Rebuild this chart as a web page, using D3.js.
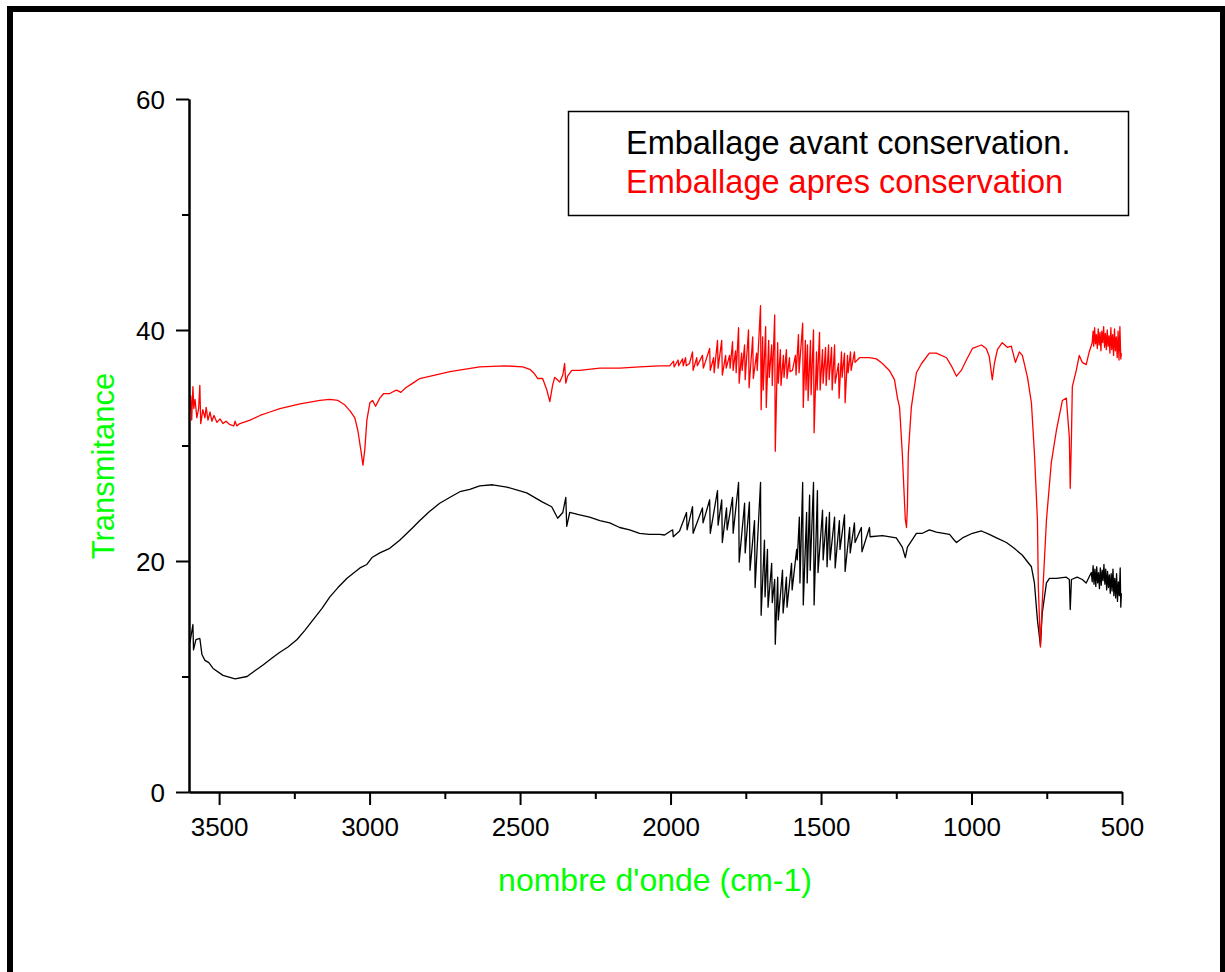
<!DOCTYPE html>
<html>
<head>
<meta charset="utf-8">
<script src="https://cdn.jsdelivr.net/npm/d3@7/dist/d3.min.js"></script>
<style>
  html, body { margin: 0; padding: 0; background: #fff; }
  svg { display: block; }
  text { font-family: "Liberation Sans", Arial, sans-serif; }
</style>
</head>
<body>
<svg id="chart" width="1225" height="972"></svg>
<script>
// ---------- data ----------
const xMajorTicks = [3500, 3000, 2500, 2000, 1500, 1000, 500];
const xMinorTicks = [3250, 2750, 2250, 1750, 1250, 750];
const yMajorTicks = [0, 20, 40, 60];
const yMinorTicks = [10, 30, 50];
const xTitle = "nombre d'onde (cm-1)";
const yTitle = "Transmitance";
const seriesNames = ["Emballage avant conservation.", "Emballage apres conservation"];
const seriesColors = ["#000000", "#ff0000"];

// Emballage apres conservation (red)  [wavenumber, transmittance]
const apresConservation = [
  [3597,33.1],[3594,34.3],[3591,32.2],[3587,35.1],[3584,33.2],[3580,34.0],[3574,32.4],[3568,33.2],[3564,35.2],[3561,31.9],
  [3554,33.1],[3547,32.4],[3543,33.3],[3537,32.2],[3530,32.9],[3524,32.1],[3517,32.6],[3507,32.0],[3497,32.3],[3487,31.9],
  [3477,32.1],[3464,31.8],[3451,31.7],[3447,32.1],[3441,31.7],[3431,31.9],[3397,32.2],[3364,32.6],[3331,32.9],[3298,33.2],
  [3231,33.6],[3165,33.9],[3132,34.0],[3105,33.9],[3082,33.5],[3065,33.0],[3049,32.4],[3039,31.3],[3029,29.6],[3022,28.3],
  [3016,29.6],[3009,32.2],[2999,33.7],[2990,33.9],[2980,33.4],[2966,34.1],[2953,34.5],[2933,34.5],[2919,34.7],[2910,34.8],
  [2896,34.6],[2880,35.0],[2856,35.4],[2833,35.8],[2783,36.1],[2733,36.4],[2634,36.8],[2551,36.9],[2491,36.8],[2468,36.6],
  [2455,36.3],[2441,35.8],[2425,35.8],[2411,34.8],[2401,33.8],[2392,35.2],[2385,35.9],[2368,35.5],[2358,36.1],[2352,37.1],
  [2348,35.4],[2342,36.0],[2328,36.5],[2302,36.5],[2235,36.7],[2169,36.7],[2103,36.8],[2036,36.9],[2003,36.9],[1990,37.3],
  [1988,36.8],[1975,37.4],[1973,36.9],[1960,37.5],[1958,36.9],[1950,37.6],[1948,36.9],[1937,37.1],
  [1927,38.1],[1925,36.5],[1913,37.6],[1911,36.9],[1894,37.8],[1891,36.7],[1870,38.4],[1868,36.5],[1857,37.6],[1855,36.3],
  [1844,39.1],[1842,36.7],[1830,39.1],[1828,36.1],[1817,37.8],[1815,36.7],[1804,37.8],[1802,36.7],[1794,39.0],[1792,36.5],
  [1784,38.2],[1782,36.3],[1774,40.2],[1772,35.4],[1764,38.0],[1762,36.5],[1754,38.7],[1752,35.7],[1741,40.0],[1739,35.0],
  [1727,39.4],[1725,35.8],[1714,38.0],[1712,36.5],[1701,42.1],[1699,33.1],[1694,39.4],[1692,34.8],[1684,40.3],[1682,33.3],
  [1674,39.1],[1672,35.9],[1664,38.7],[1662,35.2],[1654,41.3],[1652,29.5],[1644,38.9],[1642,35.4],[1635,38.3],[1633,35.2],
  [1625,37.8],[1623,35.9],[1615,38.3],[1613,35.8],[1605,37.6],[1603,36.4],[1595,36.5],[1585,37.8],[1583,36.1],[1575,39.6],
  [1573,36.3],[1561,40.6],[1559,33.3],[1552,39.1],[1550,34.8],[1545,38.7],[1543,33.9],[1535,39.1],[1533,34.4],[1525,40.0],
  [1523,31.1],[1515,38.1],[1513,34.8],[1505,39.8],[1503,34.8],[1495,38.3],[1493,35.4],[1485,38.5],[1483,35.2],[1475,38.7],
  [1473,35.7],[1465,38.5],[1463,34.8],[1455,38.7],[1453,35.4],[1442,37.1],[1440,34.1],[1432,38.1],[1430,35.9],[1422,38.0],
  [1420,33.7],[1412,37.8],[1410,36.3],[1402,38.1],[1400,36.5],[1389,38.1],[1387,37.2],
  [1372,37.6],[1356,37.6],[1339,37.6],[1316,37.5],[1296,37.1],[1273,36.5],[1256,35.7],[1246,34.1],[1239,33.3],[1230,29.3],
  [1220,23.6],[1216,22.9],[1213,24.7],[1210,29.3],[1200,33.3],[1183,36.3],[1166,37.1],[1140,38.0],[1117,38.0],[1083,37.6],
  [1067,36.9],[1050,36.0],[1034,36.5],[1017,37.4],[997,38.4],[967,38.7],[951,38.4],[941,37.7],[931,35.7],[924,37.1],
  [914,38.3],[898,38.9],[881,38.5],[868,38.6],[854,37.2],[841,38.1],[831,37.8],[814,35.9],[801,33.7],[791,29.35],
  [781,23.55],[778,17.75],[771,12.55],[765,16.4],[751,23.55],[735,28.5],[718,31.3],[698,33.9],[685,34.1],[675,30.7],
  [672,26.3],[668,30.7],[665,35.1],[652,36.5],[642,37.8],[632,37.2],[619,37.0],[609,38.1],[599,38.9],
  [596,39.9],[594,38.6],[591,40.2],[588,38.8],[585,39.6],[582,38.4],[579,40.1],[576,38.7],[573,39.8],[570,38.2],
  [567,39.9],[564,38.9],[561,40.3],[558,38.5],[555,39.7],[552,38.3],[549,40.0],[546,38.6],[543,39.5],[540,38.0],
  [537,40.2],[534,38.3],[531,39.6],[528,37.8],[525,40.1],[522,38.2],[519,39.4],[516,37.6],[513,39.9],[510,37.4],
  [507,40.3],[504,37.5],[502,38.0]
];

// Emballage avant conservation (black)  [wavenumber, transmittance]
const avantConservation = [
  [3597,12.9],[3587,14.5],[3585,12.3],[3577,13.2],[3564,13.3],[3557,11.9],[3547,11.4],[3534,11.2],[3520,10.7],[3487,10.1],
  [3447,9.8],[3407,10.0],[3381,10.5],[3354,11.0],[3324,11.6],[3298,12.1],[3271,12.55],[3241,13.2],[3215,14.0],[3188,14.9],
  [3158,15.9],[3132,16.9],[3105,17.7],[3075,18.5],[3032,19.4],[3009,19.7],
  [2992,20.3],[2966,20.7],[2933,21.1],[2900,21.8],[2856,22.9],[2833,23.5],[2800,24.3],[2767,25.0],[2734,25.5],[2700,26.0],
  [2667,26.2],[2634,26.5],[2591,26.6],
  [2544,26.4],[2478,25.9],[2425,25.1],[2395,24.7],[2375,23.7],[2358,24.2],[2348,25.5],[2345,23.0],[2335,24.2],[2302,24.0],
  [2269,23.8],[2235,23.5],[2202,23.3],[2169,22.9],[2136,22.7],[2103,22.4],[2070,22.3],[2036,22.3],[2020,22.25],
  [1993,22.7],[1991,22.1],[1970,22.6],
  [1947,24.2],[1945,22.7],[1927,24.7],[1925,22.4],[1894,24.6],[1892,23.3],[1870,25.3],[1868,22.4],[1844,26.1],[1842,23.1],
  [1830,25.3],[1828,21.6],[1814,24.6],[1812,22.7],[1794,25.5],[1792,22.4],[1774,26.8],[1772,19.9],[1754,25.0],[1752,20.7],
  [1738,25.1],[1736,19.2],[1721,23.5],[1719,17.7],[1701,26.8],[1699,15.3],[1688,21.8],[1686,16.9],[1678,21.0],[1676,16.0],
  [1664,19.8],[1662,16.4],[1654,18.4],[1652,12.8],[1644,18.6],[1642,14.9],[1628,19.2],[1626,15.5],[1615,18.6],[1613,16.0],
  [1598,19.8],[1596,17.5],[1581,21.0],[1579,20.1],[1572,23.8],[1570,18.1],[1561,26.8],[1559,16.2],[1548,24.2],[1546,18.1],
  [1538,25.7],[1536,19.2],[1525,26.8],[1523,16.2],[1512,26.1],[1510,19.0],[1495,24.4],[1493,20.1],[1482,23.8],[1480,19.5],
  [1472,24.2],[1470,20.1],[1455,23.8],[1453,19.4],[1439,23.5],[1437,21.0],[1422,24.0],[1420,19.1],[1405,22.9],[1403,20.7],
  [1389,23.3],[1387,21.6],[1366,22.9],[1364,20.8],[1339,22.9],[1337,22.1],
  [1296,22.2],[1250,22.0],[1230,21.2],[1220,20.3],[1213,21.2],[1183,22.4],[1163,22.4],[1140,22.7],[1117,22.5],[1073,22.3],
  [1057,21.8],[1050,21.6],[1030,22.0],[997,22.4],[967,22.6],[941,22.3],[917,22.0],[884,21.6],[858,21.1],[831,20.5],
  [801,19.5],[791,18.1],[781,14.9],[771,12.7],[765,15.5],[751,18.1],[741,18.5],[718,18.5],[685,18.6],[675,18.4],
  [672,15.8],[668,18.4],[649,18.6],[632,18.4],[619,18.1],[602,19.0],
  [599,18.2],[596,19.6],[593,18.0],[590,19.3],[587,17.8],[584,19.5],[581,18.1],[578,19.0],[575,17.6],[572,19.4],
  [569,17.9],[566,19.2],[563,18.3],[560,19.7],[557,18.0],[554,19.3],[551,17.5],[548,19.1],[545,17.7],[542,18.8],
  [539,17.2],[536,18.9],[533,17.4],[530,19.3],[527,17.0],[524,18.5],[521,16.8],[518,18.9],[515,16.5],[512,18.2],
  [509,17.0],[506,19.4],[504,16.0],[502,17.2]
];

// ---------- drawing ----------
const svg = d3.select("#chart");

// outer frame
svg.append("rect")
  .attr("x", 10).attr("y", 9).attr("width", 1213).attr("height", 1000)
  .attr("fill", "none").attr("stroke", "#000").attr("stroke-width", 6);

const x = d3.scaleLinear().domain([3600, 500]).range([189, 1122]);
const y = d3.scaleLinear().domain([0, 60]).range([792, 99]);

const line = d3.line().x(d => x(d[0])).y(d => y(d[1]));

// curves
svg.append("path").datum(avantConservation)
  .attr("d", line).attr("fill", "none")
  .attr("stroke", seriesColors[0]).attr("stroke-width", 1.3).attr("stroke-linejoin", "round");
svg.append("path").datum(apresConservation)
  .attr("d", line).attr("fill", "none")
  .attr("stroke", seriesColors[1]).attr("stroke-width", 1.3).attr("stroke-linejoin", "round");

// axes
const xAxis = svg.append("g").attr("transform", `translate(0,${y(0)})`)
  .call(d3.axisBottom(x).tickValues(xMajorTicks).tickSize(13).tickSizeOuter(0).tickPadding(13).tickFormat(d3.format("d")));
const xAxisMinor = svg.append("g").attr("transform", `translate(0,${y(0)})`)
  .call(d3.axisBottom(x).tickValues(xMinorTicks).tickSize(7).tickSizeOuter(0).tickFormat(""));
const yAxis = svg.append("g").attr("transform", `translate(${x(3600)},0)`)
  .call(d3.axisLeft(y).tickValues(yMajorTicks).tickSize(13).tickSizeOuter(0).tickPadding(11).tickFormat(d3.format("d")));
const yAxisMinor = svg.append("g").attr("transform", `translate(${x(3600)},0)`)
  .call(d3.axisLeft(y).tickValues(yMinorTicks).tickSize(7).tickSizeOuter(0).tickFormat(""));

[xAxis, xAxisMinor, yAxis, yAxisMinor].forEach(g => {
  g.selectAll("path.domain").attr("stroke", "#000").attr("stroke-width", 2);
  g.selectAll(".tick line").attr("stroke", "#000").attr("stroke-width", 2);
  g.selectAll(".tick text").attr("fill", "#000")
    .style("font-family", '"Liberation Sans", Arial, sans-serif').style("font-size", "26px");
});
xAxis.selectAll(".tick text").attr("dy", "0.71em");
yAxis.selectAll(".tick text").attr("dy", "0.36em");

// axis titles
svg.append("text")
  .attr("x", 655).attr("y", 891)
  .attr("text-anchor", "middle")
  .attr("fill", "#00ff00").style("font-size", "32px")
  .text(xTitle);
svg.append("text")
  .attr("transform", "translate(114,466) rotate(-90)")
  .attr("text-anchor", "middle")
  .attr("fill", "#00ff00").style("font-size", "31px")
  .text(yTitle);

// legend
const legend = svg.append("g");
legend.append("rect")
  .attr("x", 568.5).attr("y", 111.5).attr("width", 560).attr("height", 104)
  .attr("fill", "#fff").attr("stroke", "#000").attr("stroke-width", 1.5);
seriesNames.forEach((name, i) => {
  legend.append("text")
    .attr("x", 626).attr("y", 154 + i * 39)
    .attr("fill", seriesColors[i]).style("font-size", "32.5px")
    .text(name);
});
</script>
</body>
</html>
